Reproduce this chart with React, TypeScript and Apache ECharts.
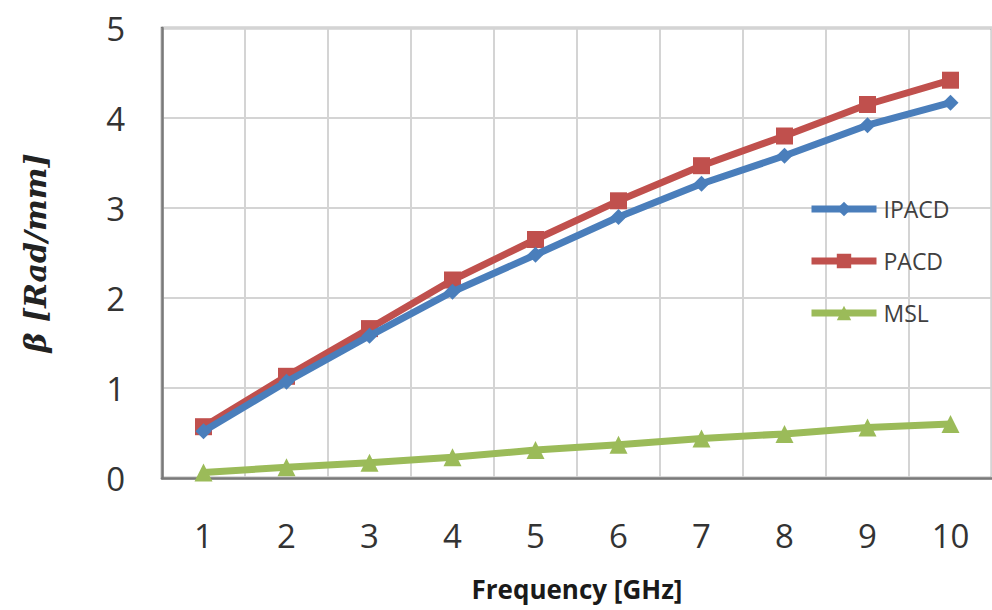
import React, { useEffect, useRef } from "react";
import * as echarts from "echarts";

const categories = ["1", "2", "3", "4", "5", "6", "7", "8", "9", "10"];
const ipacd = [0.52, 1.07, 1.58, 2.07, 2.48, 2.9, 3.27, 3.58, 3.92, 4.17];
const pacd = [0.57, 1.13, 1.66, 2.2, 2.65, 3.08, 3.47, 3.8, 4.15, 4.42];
const msl = [0.06, 0.12, 0.17, 0.23, 0.31, 0.37, 0.44, 0.49, 0.56, 0.6];
const yTicks = { min: 0, max: 5, interval: 1 };

export default function App() {
  const ref = useRef<HTMLDivElement>(null);
  useEffect(() => {
    if (!ref.current) return;
    const chart = echarts.init(ref.current, null, { renderer: "svg" });
    const labelFont = "'Open Sans', 'Liberation Sans', sans-serif";
    chart.setOption({
      animation: false,
      backgroundColor: "#ffffff",
      grid: {
        left: 162,
        top: 28,
        width: 831,
        height: 450,
        show: true,
        borderColor: "#7a7a7a",
        borderWidth: 2.5,
      },
      legend: {
        orient: "vertical",
        left: 803,
        top: 191,
        itemWidth: 65,
        itemHeight: 18,
        itemGap: 26,
        lineStyle: { width: 7 },
        textStyle: {
          fontSize: 23,
          color: "#404040",
          fontFamily: labelFont,
          lineHeight: 26,
          padding: [0, 0, 0, 2],
        },
        data: ["IPACD", "PACD", "MSL"],
      },
      xAxis: {
        type: "category",
        data: categories,
        boundaryGap: true,
        axisLine: { show: true, lineStyle: { color: "#7a7a7a", width: 2.5 } },
        axisTick: { show: false },
        axisLabel: { fontSize: 33, color: "#333333", margin: 41, fontFamily: labelFont },
        splitLine: { show: true, lineStyle: { color: "#d4d4d4", width: 2 } },
        name: "Frequency [GHz]",
        nameLocation: "middle",
        nameGap: 98,
        nameTextStyle: { fontSize: 26, fontWeight: "bold", color: "#1a1a1a", fontFamily: labelFont },
      },
      yAxis: {
        type: "value",
        min: yTicks.min,
        max: yTicks.max,
        interval: yTicks.interval,
        axisLine: { show: true, lineStyle: { color: "#7a7a7a", width: 2.5 } },
        axisTick: { show: false },
        axisLabel: { fontSize: 33, color: "#333333", margin: 37, fontFamily: labelFont },
        splitLine: { show: true, lineStyle: { color: "#d4d4d4", width: 2 } },
        name: "β [Rad/mm]",
        nameLocation: "middle",
        nameGap: 112,
        nameTextStyle: {
          fontSize: 30,
          fontWeight: "bold",
          fontStyle: "italic",
          color: "#222222",
          fontFamily: "'DejaVu Serif', 'Liberation Serif', serif",
        },
      },
      series: [
        {
          name: "IPACD",
          type: "line",
          data: ipacd,
          symbol: "diamond",
          symbolSize: 16,
          lineStyle: { color: "#4a7ebb", width: 7 },
          itemStyle: { color: "#4a7ebb" },
          z: 3,
        },
        {
          name: "PACD",
          type: "line",
          data: pacd,
          symbol: "rect",
          symbolSize: 17,
          lineStyle: { color: "#c0504d", width: 7 },
          itemStyle: { color: "#c0504d" },
          z: 2,
        },
        {
          name: "MSL",
          type: "line",
          data: msl,
          symbol: "triangle",
          symbolSize: 18,
          lineStyle: { color: "#9bbb59", width: 7 },
          itemStyle: { color: "#9bbb59" },
          z: 4,
        },
      ],
    });
    return () => chart.dispose();
  }, []);
  return (
    <div
      ref={ref}
      style={{ position: "fixed", left: 0, top: 0, width: 992, height: 610 }}
    />
  );
}
